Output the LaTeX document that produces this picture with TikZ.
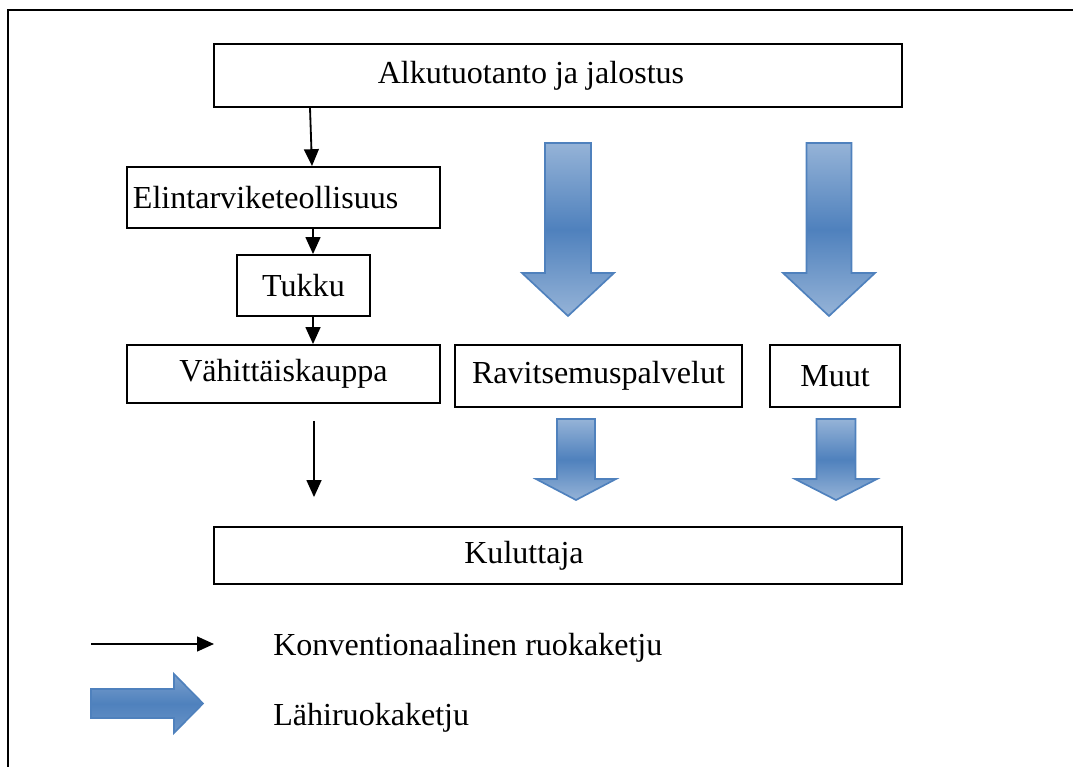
\documentclass[tikz,border=0pt]{standalone}
\usepackage{fontspec}
\setmainfont{Liberation Serif}
\usetikzlibrary{arrows.meta,calc,positioning}
\definecolor{blueline}{RGB}{79,129,189}
\definecolor{bluelight}{RGB}{149,179,215}
\definecolor{bluemid}{RGB}{79,129,189}
\tikzset{
    x=0.025cm, y=-0.025cm,
    box/.style={draw, line width=1.3pt, inner sep=0pt},
    conv/.style={-{Triangle[length=12pt,width=10.5pt]}, line width=1.3pt},
    lahi/.style={draw=blueline, line width=1.2pt, top color=bluelight,
        bottom color=bluelight, middle color=bluemid},
    txt/.style={inner sep=0pt}
}
% block arrow pointing down: centre x, top, head base, tip, half shaft, half head
\newcommand{\blockdown}[6]{%
    \shadedraw[lahi] ({#1-#5},#2) -- ({#1+#5},#2) -- ({#1+#5},#3) -- ({#1+#6},#3)
        -- (#1,#4) -- ({#1-#6},#3) -- ({#1-#5},#3) -- cycle;}

\begin{document}
\begin{tikzpicture}[font=\fontsize{22.8}{27}\selectfont]
        \useasboundingbox (0,0) rectangle (1073,767);
        \clip (0,0) rectangle (1073,767);
        \draw[line width=1.3pt] (1090,10) -- (8,10) -- (8,790);

        % chain boxes
        \node[box, minimum width=17.2cm, minimum height=1.575cm] (alku) at (558,75.5) {};
        \node[txt] (alku-t) at (531,76) {Alkutuotanto ja jalostus};
        \node[box, minimum width=7.825cm, minimum height=1.525cm, text width=7.525cm,
            inner xsep=0.15cm, align=left] (elin) at (283.5,197.5) {\raisebox{-5pt}{Elintarviketeollisuus}};
        \node[box, minimum width=3.325cm, minimum height=1.525cm] (tukku) at (303.5,285.5) {Tukku};
        \node[box, minimum width=7.825cm, minimum height=1.45cm] (vahi) at (283.5,374) {Vähittäiskauppa};
        \node[box, minimum width=7.175cm, minimum height=1.55cm] (ravi) at (598.5,376) {Ravitsemuspalvelut};
        \node[box, minimum width=3.25cm, minimum height=1.55cm] (muut) at (835,376) {Muut};
        \node[box, minimum width=17.2cm, minimum height=1.425cm] (kulu) at (558,555.5) {};
        \node[txt] (kulu-t) at (524,556) {Kuluttaja};

        % conventional chain
        \draw[conv] (alku.south -| 310,0) -- (elin.north -| 312,0);
        \draw[conv] (elin.south -| 313,0) -- (tukku.north -| 313,0);
        \draw[conv] (tukku.south -| 313,0) -- (vahi.north -| 313,0);
        \draw[conv] ($(vahi.south -| 314,0)+(0,17)$) -- ($(kulu.north -| 314,0)-(0,29)$);

        % local food chain
        \blockdown{568}{143}{273}{316}{23}{46}
        \blockdown{829}{143}{273}{316}{22.5}{46}
        \blockdown{576}{419}{479}{500}{19}{40}
        \blockdown{836}{419}{479}{500}{19.5}{41}

        % legend
        \coordinate (konv-a) at (91,644);
        \coordinate (konv-b) at (214,644);
        \draw[conv] (konv-a) -- (konv-b);
        \node[txt, anchor=west] (konv) at (273,648) {Konventionaalinen ruokaketju};
        \shadedraw[draw=blueline, line width=1.2pt, top color=bluemid!75!white,
            bottom color=bluemid!85!white, middle color=bluemid]
            (91,689) -- (174,689) -- (174,674) -- (203,703.5) -- (174,733)
            -- (174,718) -- (91,718) -- cycle;
        \node[txt, anchor=west] (lahi) at (273,718) {Lähiruokaketju};
\end{tikzpicture}
\end{document}
